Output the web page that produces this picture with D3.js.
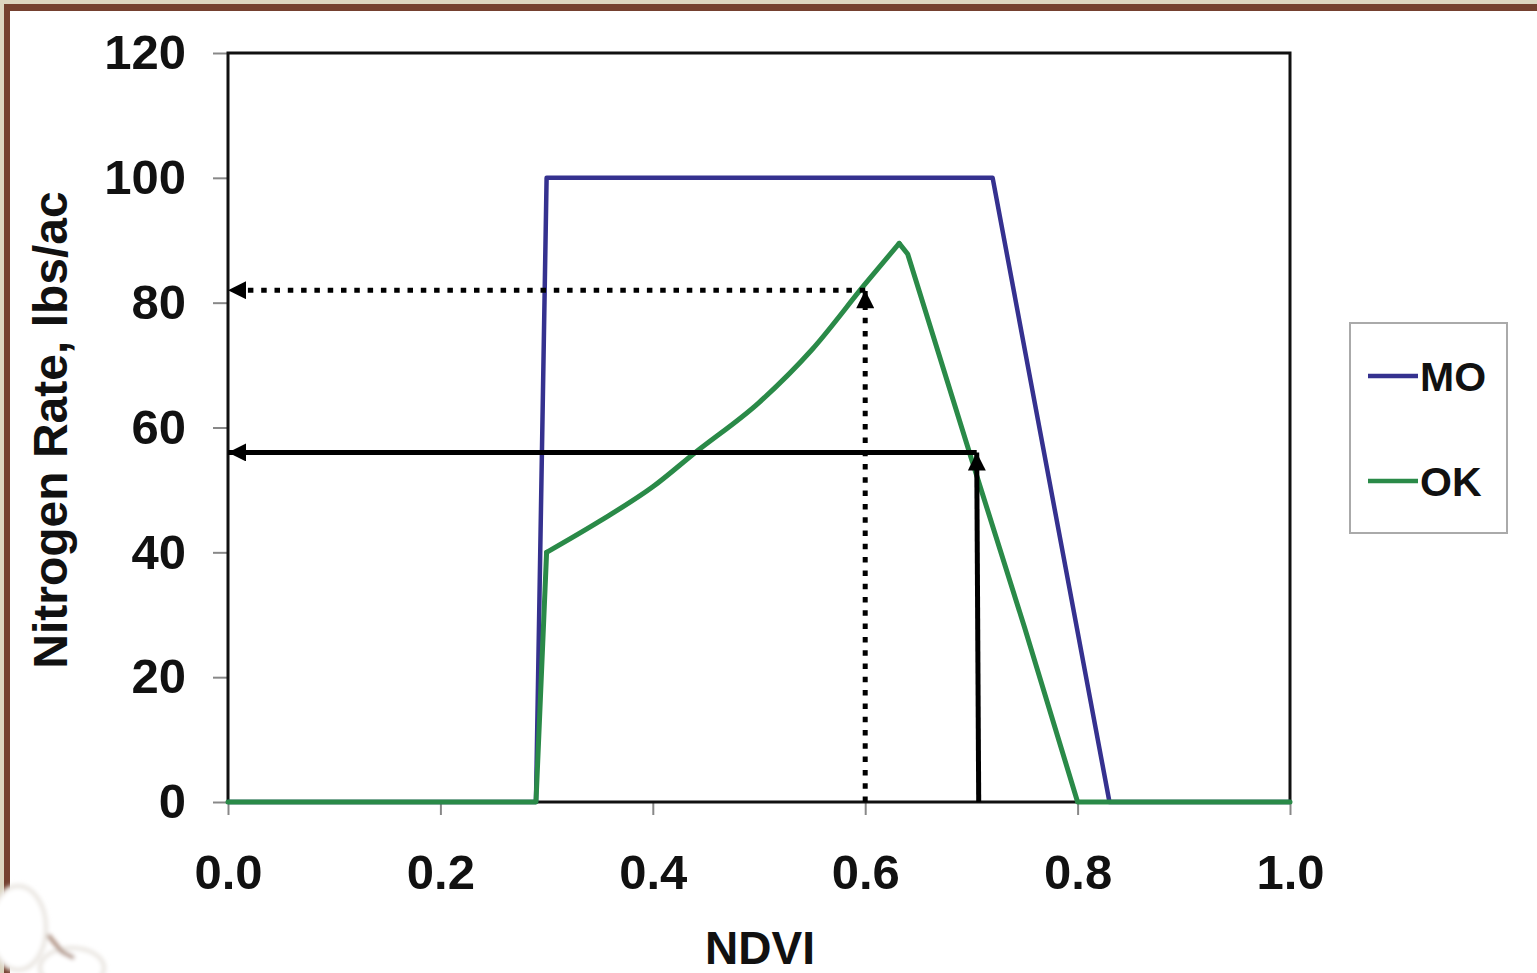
<!DOCTYPE html>
<html>
<head>
<meta charset="utf-8">
<script src="https://cdn.jsdelivr.net/npm/d3@7"></script>
<style>
  html, body { margin: 0; padding: 0; background: #ffffff; }
  svg { display: block; }
</style>
</head>
<body>
<script>
// ---- data ----
const moNdvi = [0.0, 0.29, 0.30, 0.72, 0.83, 1.0];
const moRate = [0, 0, 100, 100, 0, 0];
// OK: flat part / jump, smooth rising part, falling part
const okNdviLow = [0.0, 0.29, 0.30];
const okRateLow = [0, 0, 40];
const okNdviRise = [0.30, 0.35, 0.40, 0.44, 0.50, 0.55, 0.60, 0.632];
const okRateRise = [40, 45, 50.5, 56, 64, 72.5, 83, 89.5];
const okNdviFall = [0.632, 0.64, 0.70, 0.75, 0.80, 1.0];
const okRateFall = [89.5, 87.8, 55, 28, 0, 0];
const xTicks = [0.0, 0.2, 0.4, 0.6, 0.8, 1.0];
const yTicks = [0, 20, 40, 60, 80, 100, 120];
const seriesNames = ["MO", "OK"];
const seriesColors = ["#35318f", "#2a8a48"];
// guide arrows: [ndvi, rate]
const dottedGuide = [0.60, 82];
const solidGuide = [0.705, 56];

const W = 1537, H = 973;
const svg = d3.select("body").append("svg").attr("width", W).attr("height", H);

// frame
svg.append("rect").attr("x", 0).attr("y", 0).attr("width", W).attr("height", H).attr("fill", "#ffffff");
svg.append("rect").attr("x", 0).attr("y", 0).attr("width", W).attr("height", 4).attr("fill", "#dcd5c0");
svg.append("rect").attr("x", 0).attr("y", 0).attr("width", 4).attr("height", H).attr("fill", "#dcd5c0");
svg.append("rect").attr("x", 4).attr("y", 4).attr("width", W - 4).attr("height", 7).attr("fill", "#74402f");
svg.append("rect").attr("x", 4).attr("y", 4).attr("width", 6).attr("height", H - 4).attr("fill", "#74402f");

// cotton decoration (bottom-left)
const blur = svg.append("defs").append("filter").attr("id", "soft");
blur.append("feGaussianBlur").attr("stdDeviation", 2);
const deco = svg.append("g").attr("filter", "url(#soft)");
deco.append("ellipse").attr("cx", 18).attr("cy", 928).attr("rx", 28).attr("ry", 42).attr("fill", "#ffffff").attr("stroke", "#e8e4df").attr("stroke-width", 4);
deco.append("ellipse").attr("cx", 72).attr("cy", 968).attr("rx", 32).attr("ry", 20).attr("fill", "#ffffff").attr("stroke", "#e8e4df").attr("stroke-width", 4);
deco.append("path").attr("d", "M48,935 L62,952 L74,958").attr("fill", "none").attr("stroke", "#a88878").attr("stroke-width", 4);

const x = d3.scaleLinear().domain([0, 1]).range([228, 1290]);
const y = d3.scaleLinear().domain([0, 120]).range([802, 53]);

const FONT = "'Liberation Sans', Arial, Helvetica, sans-serif";

// axes
const yAxis = d3.axisLeft(y).tickValues(yTicks).tickSize(15).tickPadding(27).tickFormat(d3.format("d"));
const gy = svg.append("g").attr("transform", `translate(${x(0)},0)`).call(yAxis);
const xAxis = d3.axisBottom(x).tickValues(xTicks).tickSize(13).tickPadding(39).tickFormat(d3.format(".1f"));
const gx = svg.append("g").attr("transform", `translate(0,${y(0)})`).call(xAxis);
[gx, gy].forEach(g => {
  g.select(".domain").remove();
  g.selectAll(".tick line").attr("stroke", "#888").attr("stroke-width", 2);
  g.selectAll(".tick text").attr("font-family", FONT).attr("font-weight", "bold")
    .attr("font-size", 49).attr("fill", "#111");
});

// plot frame
svg.append("rect").attr("x", x(0)).attr("y", y(120)).attr("width", x(1) - x(0)).attr("height", y(0) - y(120))
  .attr("fill", "none").attr("stroke", "#111").attr("stroke-width", 3);

// series
const zip = (a, b) => a.map((v, i) => [v, b[i]]);
const line = d3.line().x(d => x(d[0])).y(d => y(d[1]));
const smooth = d3.line().curve(d3.curveMonotoneX).x(d => x(d[0])).y(d => y(d[1]));
svg.append("path").datum(zip(moNdvi, moRate)).attr("d", line).attr("fill", "none")
  .attr("stroke", seriesColors[0]).attr("stroke-width", 4.5).attr("stroke-linejoin", "round");
const okG = svg.append("g").attr("fill", "none").attr("stroke", seriesColors[1]).attr("stroke-width", 5)
  .attr("stroke-linejoin", "round").attr("stroke-linecap", "round");
okG.append("path").datum(zip(okNdviLow, okRateLow)).attr("d", line);
okG.append("path").datum(zip(okNdviRise, okRateRise)).attr("d", smooth);
okG.append("path").datum(zip(okNdviFall, okRateFall)).attr("d", line);

// arrows
const defs = svg.append("defs");
defs.append("marker").attr("id", "arr").attr("viewBox", "0 0 10 10").attr("refX", 10).attr("refY", 5)
  .attr("markerUnits", "userSpaceOnUse").attr("markerWidth", 20).attr("markerHeight", 18).attr("orient", "auto")
  .append("path").attr("d", "M0,0 L10,5 L0,10 Z").attr("fill", "#000");

function guide(pt, dashed) {
  const g = svg.append("g");
  const dash = dashed ? "5.5,7.8" : null;
  g.append("line").attr("x1", x(pt[0]) + (dashed ? 0 : 2)).attr("y1", y(0)).attr("x2", x(pt[0])).attr("y2", y(pt[1]))
    .attr("stroke", "#000").attr("stroke-width", 5).attr("stroke-dasharray", dash).attr("marker-end", "url(#arr)");
  g.append("line").attr("x1", x(pt[0])).attr("y1", y(pt[1])).attr("x2", x(0)).attr("y2", y(pt[1]))
    .attr("stroke", "#000").attr("stroke-width", 5).attr("stroke-dasharray", dash).attr("marker-end", "url(#arr)");
}
guide(dottedGuide, true);
guide(solidGuide, false);

// axis titles
svg.append("text").attr("x", 760).attr("y", 964).attr("text-anchor", "middle")
  .attr("font-family", FONT).attr("font-weight", "bold").attr("font-size", 46).attr("fill", "#111").text("NDVI");
svg.append("text").attr("transform", "translate(67,430) rotate(-90)").attr("text-anchor", "middle")
  .attr("font-family", FONT).attr("font-weight", "bold").attr("font-size", 48).attr("fill", "#111").text("Nitrogen Rate, lbs/ac");

// legend
const lg = svg.append("g");
lg.append("rect").attr("x", 1350).attr("y", 323).attr("width", 157).attr("height", 210)
  .attr("fill", "#fff").attr("stroke", "#aaa").attr("stroke-width", 2);
seriesNames.forEach((n, i) => {
  const ly = 376 + i * 105;
  lg.append("line").attr("x1", 1368).attr("x2", 1418).attr("y1", ly).attr("y2", ly)
    .attr("stroke", seriesColors[i]).attr("stroke-width", 4.5);
  lg.append("text").attr("x", 1420).attr("y", ly + 15).attr("font-family", FONT).attr("font-weight", "bold")
    .attr("font-size", 41).attr("fill", "#111").text(n);
});
</script>
</body>
</html>
